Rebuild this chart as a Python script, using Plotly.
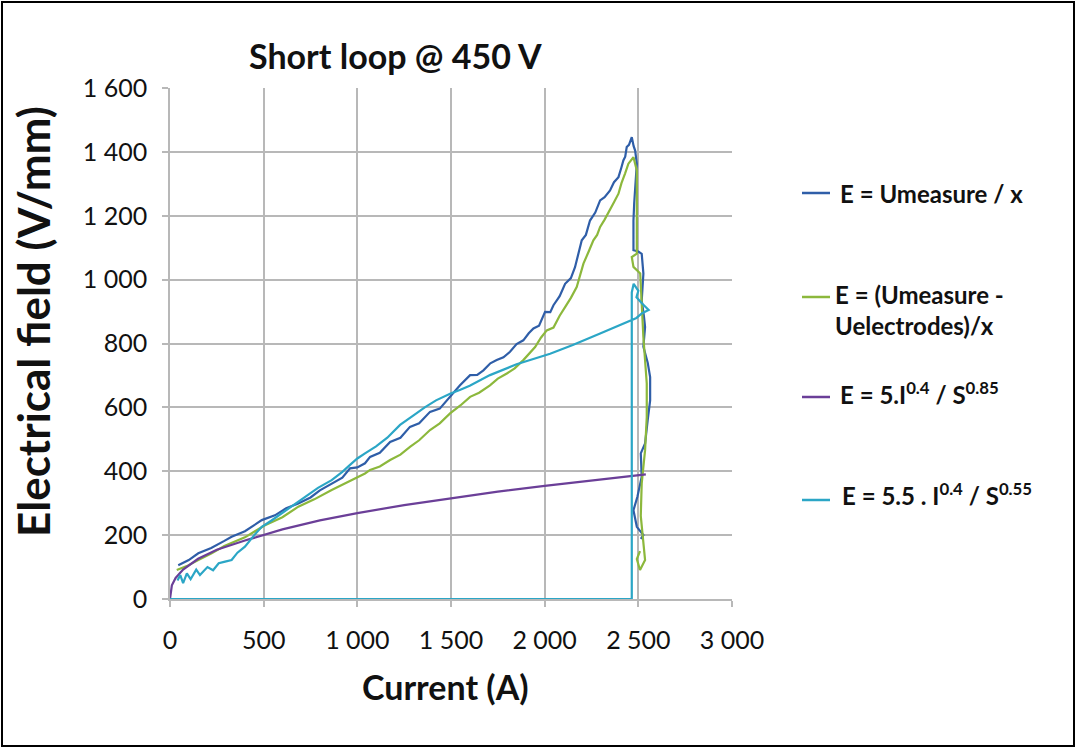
import plotly.graph_objects as go

# ---------------- data ----------------
blue_x = [44, 100, 151, 220, 290, 329, 400, 490, 560, 620, 685, 750, 800, 863, 920, 961, 1000, 1041,
          1068, 1120, 1175, 1230, 1281, 1330, 1388, 1440, 1495, 1548, 1602, 1640, 1673, 1710, 1744,
          1780, 1815, 1850, 1886, 1915, 1940, 1970, 2002, 2030, 2047, 2080, 2109, 2140, 2162, 2180,
          2198, 2220, 2242, 2270, 2296, 2320, 2349, 2370, 2394, 2410, 2420, 2430, 2438, 2450, 2465,
          2475, 2483, 2492, 2483, 2478, 2474, 2472, 2474, 2500, 2518, 2527, 2518, 2530, 2536, 2527,
          2550, 2563, 2563, 2550, 2536, 2513, 2518, 2495, 2474, 2492, 2527, 2513]
blue_y = [106, 122, 143, 160, 182, 195, 212, 247, 262, 284, 299, 318, 340, 362, 380, 409, 412, 425,
          445, 458, 492, 505, 539, 550, 586, 596, 633, 669, 701, 702, 716, 738, 748, 757, 774, 798,
          810, 832, 847, 856, 899, 898, 920, 948, 987, 1005, 1039, 1085, 1123, 1140, 1185, 1210,
          1248, 1258, 1279, 1305, 1321, 1352, 1373, 1385, 1415, 1422, 1446, 1418, 1404, 1363, 1300,
          1240, 1185, 1130, 1092, 1088, 1081, 1019, 935, 885, 852, 790, 740, 695, 622, 560, 487,
          456, 383, 320, 278, 226, 200, 188]

green_x = [36, 90, 151, 220, 290, 329, 400, 507, 600, 685, 770, 863, 950, 1041, 1068, 1120, 1175,
           1230, 1281, 1330, 1388, 1440, 1495, 1550, 1602, 1650, 1708, 1750, 1798, 1840, 1886, 1920,
           1949, 1980, 2011, 2047, 2080, 2109, 2140, 2171, 2190, 2207, 2235, 2260, 2280, 2296, 2320,
           2349, 2370, 2394, 2410, 2429, 2447, 2474, 2492, 2492, 2490, 2492, 2465, 2474, 2510, 2518,
           2527, 2545, 2545, 2536, 2518, 2513, 2527, 2536, 2509, 2492, 2509]
green_y = [91, 103, 122, 142, 166, 175, 193, 231, 256, 289, 312, 341, 366, 393, 404, 415, 435, 452,
           476, 497, 529, 550, 581, 606, 633, 646, 669, 690, 706, 722, 748, 772, 789, 818, 841, 850,
           887, 914, 943, 977, 1018, 1050, 1088, 1123, 1140, 1165, 1188, 1217, 1242, 1269, 1302,
           1332, 1363, 1383, 1342, 1250, 1150, 1081, 1071, 1040, 1019, 935, 820, 675, 570, 466, 362,
           260, 174, 122, 91, 125, 150]

purple_x = [0, 10, 30, 70, 150, 250, 400, 600, 800, 1000, 1250, 1500, 1750, 2000, 2250, 2540]
purple_y = [0, 43, 66, 92, 126, 154, 183, 218, 246, 269, 294, 316, 336, 354, 371, 390]

cyan_x = [40, 55, 70, 90, 110, 140, 160, 200, 230, 260, 294, 329, 360, 400, 450, 490, 540, 596, 650,
          721, 790, 863, 920, 961, 1000, 1041, 1100, 1160, 1228, 1300, 1360, 1420, 1495, 1550, 1600,
          1708, 1850, 2029, 2150, 2296, 2456, 2490, 2520, 2555, 2520, 2490, 2500, 2475, 2465, 2465, 0]
cyan_y = [58, 75, 50, 80, 62, 92, 75, 100, 90, 112, 117, 122, 145, 164, 200, 226, 245, 268, 292,
          320, 348, 372, 398, 420, 440, 456, 478, 505, 545, 575, 600, 622, 643, 655, 668, 701, 735,
          768, 795, 831, 873, 880, 895, 905, 925, 945, 965, 987, 960, 0, 0]

x_tickvals = [0, 500, 1000, 1500, 2000, 2500, 3000]
x_ticktext = ["0", "500", "1 000", "1 500", "2 000", "2 500", "3 000"]
y_tickvals = [0, 200, 400, 600, 800, 1000, 1200, 1400, 1600]
y_ticktext = ["0", "200", "400", "600", "800", "1 000", "1 200", "1 400", "1 600"]

series_names = ["E = Umeasure / x",
                "E = (Umeasure -<br>Uelectrodes)/x",
                "E = 5.I<sup>0.4</sup> / S<sup>0.85</sup>",
                "E = 5.5 . I<sup>0.4</sup> / S<sup>0.55</sup>"]
colors = ["#2F5EA8", "#8CB83C", "#6B3F98", "#2BA6C6"]

# ---------------- figure ----------------
W, H = 1077, 750
L, R, T, B = 170, 345, 88, 151
PW, PH = W - L - R, H - T - B


def px(x):
    return (x - L) / PW


def py(y):
    return (H - B - y) / PH


FONT = "Lato"
fig = go.Figure()
for xs, ys, c in [(blue_x, blue_y, colors[0]), (green_x, green_y, colors[1]),
                  (purple_x, purple_y, colors[2]), (cyan_x, cyan_y, colors[3])]:
    fig.add_trace(go.Scatter(x=xs, y=ys, mode="lines", line=dict(color=c, width=2.2),
                             showlegend=False, hoverinfo="skip"))

grid = "#b8b8b8"
fig.update_xaxes(range=[0, 3000], tickvals=x_tickvals, ticktext=x_ticktext,
                 showgrid=True, gridcolor=grid, gridwidth=1.6, zeroline=False,
                 showline=True, linecolor=grid, linewidth=1.6,
                 ticks="outside", ticklen=6, tickcolor=grid, tickwidth=1.6,
                 tickfont=dict(family=FONT, size=25, color="#111"), ticklabelstandoff=12)
fig.update_yaxes(range=[0, 1600], tickvals=y_tickvals, ticktext=y_ticktext,
                 showgrid=True, gridcolor=grid, gridwidth=1.6, zeroline=False,
                 showline=True, linecolor=grid, linewidth=1.6,
                 ticks="outside", ticklen=6, tickcolor=grid, tickwidth=1.6,
                 tickfont=dict(family=FONT, size=25, color="#111"), ticklabelstandoff=10)

ann = [
    dict(text="<b>Short loop @ 450 V</b>", x=px(395), y=py(55), font=dict(size=34)),
    dict(text="<b>Current (A)</b>", x=px(445), y=py(686), font=dict(size=34)),
    dict(text="<b>Electrical field (V/mm)</b>", x=px(33), y=py(322), font=dict(size=44), textangle=-90),
]
for a in ann:
    a.update(xref="paper", yref="paper", showarrow=False, xanchor="center", yanchor="middle")
    a["font"].update(family=FONT, color="#111")
    fig.add_annotation(**a)

# legend (drawn manually to match spacing)
leg_rows = [(193, 193), (310, 297), (393, 397), (494, 500)]
leg_text_x = [838, 833, 838, 840]
shapes = []
for i, (ty, sy) in enumerate(leg_rows):
    fig.add_annotation(text="<b>" + series_names[i] + "</b>", xref="paper", yref="paper",
                       x=px(leg_text_x[i]), y=py(ty), xanchor="left", yanchor="middle",
                       align="left", showarrow=False,
                       font=dict(family=FONT, size=24, color="#111"))
    shapes.append(dict(type="line", xref="paper", yref="paper", x0=px(802), x1=px(830),
                       y0=py(sy), y1=py(sy), line=dict(color=colors[i], width=2.5)))

# outer border
shapes.append(dict(type="rect", xref="paper", yref="paper", x0=px(2), x1=px(1074),
                   y0=py(746), y1=py(2), line=dict(color="#000", width=2)))

fig.update_layout(width=W, height=H, margin=dict(l=L, r=R, t=T, b=B),
                  paper_bgcolor="white", plot_bgcolor="white", shapes=shapes,
                  showlegend=False)
fig.write_html("out.html")
